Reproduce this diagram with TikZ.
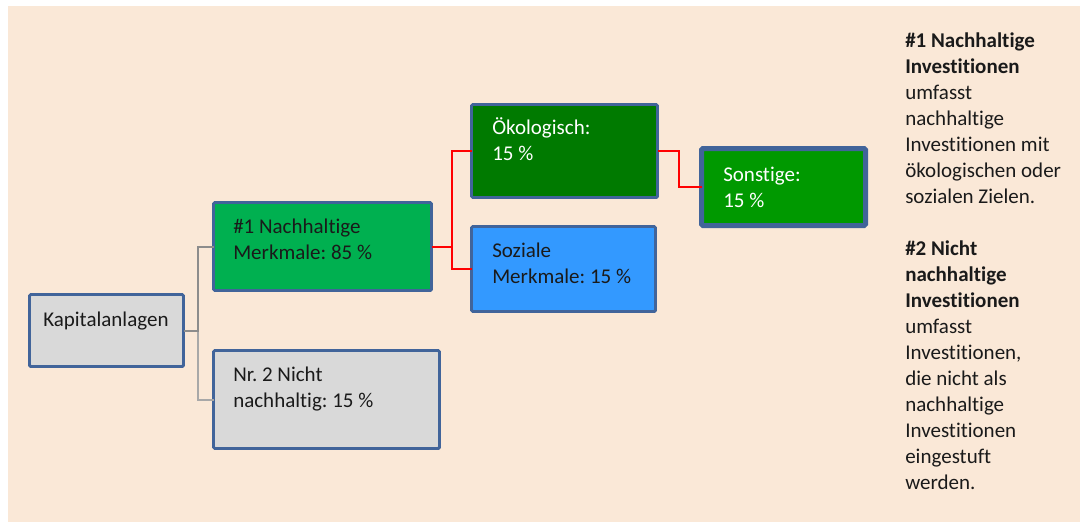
\documentclass[tikz,border=0pt]{standalone}
\usepackage{fontspec}
\setmainfont[Ligatures={NoCommon}]{Carlito}
\frenchspacing
\usetikzlibrary{fit}
\definecolor{bg}{HTML}{FAE8D7}
\definecolor{bordc}{HTML}{41649A}
\definecolor{grayfill}{HTML}{D9D9D9}
\definecolor{greenA}{HTML}{00B050}
\definecolor{greenB}{HTML}{007A00}
\definecolor{greenC}{HTML}{009900}
\definecolor{blueA}{HTML}{3399FF}
\definecolor{connDark}{HTML}{8C8C8C}
\definecolor{connLight}{HTML}{A8A8A8}
\definecolor{txtc}{HTML}{1A1A1A}
\begin{document}
\begin{tikzpicture}[x=0.75pt,y=-0.75pt,
  box/.style={draw=bordc, line width=2.2pt, rounded corners=1pt, inner sep=0pt, outer sep=0pt},
  txt/.style={anchor=base west, align=left, inner sep=0pt, text=txtc, font=\fontsize{15.75}{19.5}\selectfont\frenchspacing},
  wtxt/.style={txt, text=white},
  grayconn/.style={line width=1.5pt, draw=connDark},
  grayconnl/.style={line width=1.5pt, draw=connLight},
  redconn/.style={line width=1.5pt, draw=red}]
\useasboundingbox (0,0) rectangle (1080,522);
\fill[white] (0,0) rectangle (1080,522);
\fill[bg] (8,6) rectangle (1080,522);

% boxes
\node[box, fill=grayfill, fit={(29.5,294.5) (183.5,366.5)}] (kap) {};
\node[box, fill=greenA, fit={(213.5,202.5) (431.5,290.5)}] (nach) {};
\node[box, fill=grayfill, fit={(213.5,350.5) (439.5,448.5)}] (nicht) {};
\node[box, fill=greenB, fit={(471.5,104.5) (657.5,197.5)}] (oek) {};
\node[box, fill=blueA, fit={(471.5,226.5) (655.5,311.5)}] (soz) {};
\node[box, fill=greenC, line width=3.75pt, fit={(701.5,148.5) (865.5,225.5)}] (son) {};

% texts (anchor = baseline of last line)
\node[txt] (tkap) at (43,326) {Kapitalanlagen};
\node[txt] (tnach) at (233,259) {\#1 Nachhaltige\\Merkmale: 85 \%};
\node[txt] (tnicht) at (233,407) {Nr. 2 Nicht\\nachhaltig: 15 \%};
\node[wtxt] (toek) at (492,160) {Ökologisch:\\15 \%};
\node[txt] (tsoz) at (492,283) {Soziale\\Merkmale: 15 \%};
\node[wtxt] (tson) at (723,207) {Sonstige:\\15 \%};

% connectors
\draw[grayconnl] (kap.east) -- ++(14,0) |- (nicht.west);
\draw[grayconn] (kap.east) -- ++(14,0) |- (nach.west);
\draw[redconn] (nach.east) -- ++(20,0) |- (oek.west);
\draw[redconn] (nach.east) -- ++(20,0) |- (soz.west);
\draw[redconn] (oek.east) -- ++(21,0) |- (son.west);

% legend
\node[txt] (legend) at (905,489) {\textbf{\#1 Nachhaltige}\\\textbf{Investitionen}\\umfasst\\nachhaltige\\Investitionen mit\\ökologischen oder\\sozialen Zielen.\\[19.5pt]\textbf{\#2 Nicht}\\\textbf{nachhaltige}\\\textbf{Investitionen}\\umfasst\\Investitionen,\\die nicht als\\nachhaltige\\Investitionen\\eingestuft\\werden.};
\end{tikzpicture}
\end{document}
